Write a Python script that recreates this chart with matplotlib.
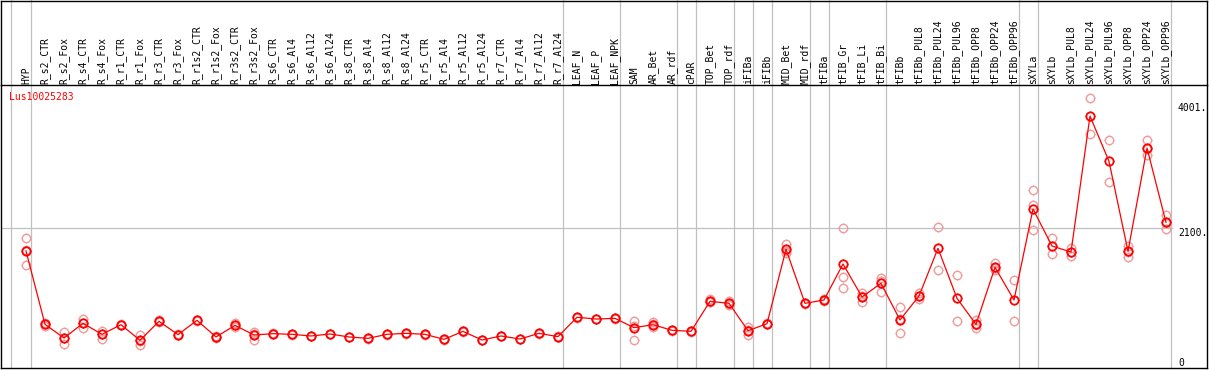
import matplotlib
matplotlib.use("Agg")
import matplotlib.pyplot as plt
from matplotlib.path import Path
from matplotlib.lines import Line2D
import matplotlib.transforms as mtransforms
import numpy as np

# ---------------- data ----------------
categories = [
    "HYP",
    "R_s2_CTR", "R_s2_Fox", "R_s4_CTR", "R_s4_Fox", "R_r1_CTR", "R_r1_Fox",
    "R_r3_CTR", "R_r3_Fox", "R_r1s2_CTR", "R_r1s2_Fox", "R_r3s2_CTR", "R_r3s2_Fox",
    "R_s6_CTR", "R_s6_Al4", "R_s6_Al12", "R_s6_Al24",
    "R_s8_CTR", "R_s8_Al4", "R_s8_Al12", "R_s8_Al24",
    "R_r5_CTR", "R_r5_Al4", "R_r5_Al12", "R_r5_Al24",
    "R_r7_CTR", "R_r7_Al4", "R_r7_Al12", "R_r7_Al24",
    "LEAF_N", "LEAF_P", "LEAF_NPK",
    "SAM", "AR_Bet", "AR_rdf",
    "cPAR",
    "TOP_Bet", "TOP_rdf",
    "iFIBa",
    "iFIBb",
    "MID_Bet", "MID_rdf",
    "tFIBa",
    "tFIB_Gr", "tFIB_Li", "tFIB_Bi",
    "tFIBb", "tFIBb_PUL8", "tFIBb_PUL24", "tFIBb_PUL96", "tFIBb_OPP8", "tFIBb_OPP24", "tFIBb_OPP96",
    "sXYLa",
    "sXYLb", "sXYLb_PUL8", "sXYLb_PUL24", "sXYLb_PUL96", "sXYLb_OPP8", "sXYLb_OPP24", "sXYLb_OPP96",
]

group_sizes = [1, 28, 3, 3, 1, 2, 1, 1, 2, 1, 3, 7, 1, 7]

means = [
    1758,
    647, 439, 662, 495, 641, 404, 692, 490, 707, 455, 631, 485,
    505, 495, 470, 500,
    455, 434, 495, 510,
    495, 419, 540, 409,
    470, 424, 510, 460,
    753, 727, 737,
    596, 641, 556,
    540,
    995, 965,
    550,
    656,
    1783, 965,
    1015,
    1561, 1061, 1268,
    712, 1076, 1798, 1040, 646, 1510, 1015,
    2394,
    1833, 1742, 3803, 3116, 1753, 3318, 2192,
]

replicates = [
    [1950, 1541, 1780],
    [660, 621], [526, 348, 440], [732, 596, 660], [550, 429, 500], [650, 630], [490, 333, 400],
    [712, 680], [495, 485], [715, 700], [470, 440], [672, 601, 630], [530, 414, 500],
    [510, 500], [498, 492], [475, 465], [505, 495],
    [460, 450], [440, 430], [500, 490], [515, 505],
    [500, 490], [425, 415], [545, 535], [415, 405],
    [475, 465], [430, 420], [515, 505], [465, 455],
    [758, 748], [732, 722], [742, 732],
    [697, 404, 620], [687, 650, 600], [560, 552],
    [545, 535],
    [1030, 980, 990], [1000, 940, 960],
    [600, 490, 560],
    [660, 652],
    [1868, 1760, 1720], [975, 955],
    [1030, 1000],
    [2101, 1359, 1202], [1116, 990, 1070], [1344, 1132, 1300],
    [904, 510, 720], [1116, 1025, 1080], [2121, 1470], [1394, 697], [712, 586, 640], [1581, 1470, 1500], [1318, 697],
    [2677, 2455, 2071],
    [1950, 1712], [1798, 1687, 1740], [4071, 3526], [3435, 2798], [1838, 1671, 1750], [3435, 3212, 3300], [2303, 2095, 2180],
]

gene_name = "Lus10025283"
ytick_values = [4001, 2100, 0]
ytick_labels = ["4001.", "2100.", "0"]

# ---------------- figure ----------------
W, H = 1209, 370
fig = plt.figure(figsize=(W / 100, H / 100), dpi=100)
fig.patch.set_facecolor("white")

ax_left, ax_right, ax_top, ax_bot = 1, 1207, 85, 368
ax = fig.add_axes([ax_left / W, (H - ax_bot) / H, (ax_right - ax_left) / W, (ax_bot - ax_top) / H])

x0, dx = 26.0, 19.0
scale = 0.066  # px per unit
y0px = 367.0
ax.set_xlim((ax_left - x0) / dx, (ax_right - x0) / dx)
ax.set_ylim((y0px - ax_bot) / scale, (y0px - ax_top) / scale)
ax.set_xticks([])
ax.set_yticks([])
for s in ax.spines.values():
    s.set_color("black")
    s.set_linewidth(1.0)

grey = "#c0c0c0"
ax.plot([(ax_left - x0) / dx, (1172 - x0) / dx], [2100, 2100], color=grey, lw=0.9, zorder=1)

ext = ax_bot / (ax_bot - ax_top)
ends = np.cumsum(group_sizes) - 1
seps = [(10.7 - x0) / dx] + [e + 4.7 / dx for e in ends]
for sx in seps:
    ax.axvline(sx, ymin=0, ymax=ext, color=grey, lw=0.9, clip_on=False, zorder=1)

# small tick marks around the circle markers
t0, t1 = 0.80, 1.0
tverts, tcodes = [], []
for (a, b) in [((0, t0), (0, t1)), ((0, -t0), (0, -t1)), ((t0, 0), (t1, 0)), ((-t0, 0), (-t1, 0))]:
    tverts += [a, b]
    tcodes += [Path.MOVETO, Path.LINETO]
ticks_marker = Path(tverts, tcodes)

circ_ms = 6.0
tick_ms = 7.6


def draw_marks(xv, yv, color, mew, z):
    ax.plot(xv, yv, linestyle="none", marker="o", ms=circ_ms, mfc="none",
            mec=color, mew=mew, zorder=z)
    ax.plot(xv, yv, linestyle="none", marker=ticks_marker, ms=tick_ms, mfc="none",
            mec=color, mew=0.8, zorder=z)


xs = np.arange(len(categories))
rep_color = "#f09a9a"
for i, reps in enumerate(replicates):
    draw_marks([i] * len(reps), reps, rep_color, 1.0, 2)

ax.plot(xs, means, color="red", lw=0.9, zorder=3)
draw_marks(xs, means, "red", 1.3, 4)

blend = mtransforms.blended_transform_factory(ax.transData, fig.transFigure)
for i, name in enumerate(categories):
    ax.text(i, (H - 83.5) / H, name, rotation=90, ha="center", va="bottom",
            family="DejaVu Sans Mono", fontsize=7, color="black",
            transform=blend, clip_on=False)

fig.text(9 / W, (H - 97.5) / H, gene_name, color="red", family="DejaVu Sans Mono",
         fontsize=7, ha="left", va="center")

label_offsets = {4001: 4.6, 2100: 4.4, 0: -4.5}
for v, lab in zip(ytick_values, ytick_labels):
    py = y0px - v * scale + label_offsets[v]
    fig.text(1178 / W, (H - py) / H, lab, color="black", family="DejaVu Sans Mono",
             fontsize=7, ha="left", va="center")

fig.add_artist(Line2D([ax_left / W, ax_right / W], [(H - 0.5) / H, (H - 0.5) / H], color="black", lw=1.0))
fig.add_artist(Line2D([ax_left / W, ax_left / W], [(H - ax_top) / H, (H - 0.5) / H], color="black", lw=1.0))
fig.add_artist(Line2D([ax_right / W, ax_right / W], [(H - ax_top) / H, (H - 0.5) / H], color="black", lw=1.0))

fig.savefig("out.png", dpi=100, facecolor="white")
